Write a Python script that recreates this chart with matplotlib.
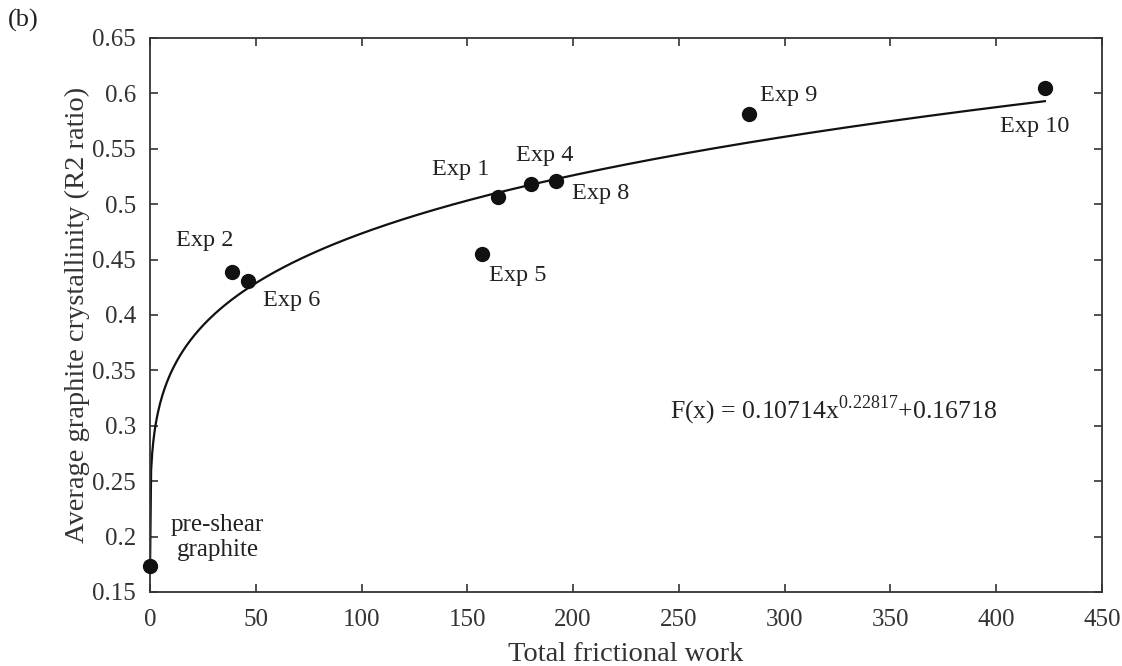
import numpy as np
import matplotlib
matplotlib.use("Agg")
import matplotlib.pyplot as plt

plt.rcParams['font.family'] = ['Liberation Serif', 'DejaVu Serif']

# Data
labels = ["pre-shear\ngraphite", "Exp 2", "Exp 6", "Exp 5", "Exp 1", "Exp 4", "Exp 8", "Exp 9", "Exp 10"]
work = [0.0, 38.7, 46.2, 157.0, 164.6, 180.2, 192.0, 283.0, 423.0]
crystallinity = [0.1735, 0.439, 0.4307, 0.455, 0.5065, 0.518, 0.521, 0.581, 0.605]

# label positions (data coords) for the annotations
label_x = [32, 26, 67, 174, 146.7, 186.8, 213, 302, 418.4]
label_y = [0.199, 0.467, 0.413, 0.436, 0.531, 0.544, 0.510, 0.598, 0.570]

# Fit: F(x) = a * x^b + c
fit_a, fit_b, fit_c = 0.10714, 0.22817, 0.16718

xticks = [0, 50, 100, 150, 200, 250, 300, 350, 400, 450]
yticks = [0.15, 0.2, 0.25, 0.3, 0.35, 0.4, 0.45, 0.5, 0.55, 0.6, 0.65]
ytick_labels = ["0.15", "0.2", "0.25", "0.3", "0.35", "0.4", "0.45", "0.5", "0.55", "0.6", "0.65"]

fig = plt.figure(figsize=(11.22, 6.66), dpi=100)
ax = fig.add_axes([150/1122, 1 - 592/666, (1102-150)/1122, (592-38)/666])

xf = np.linspace(0, max(work), 800)
ax.plot(xf, fit_a * xf**fit_b + fit_c, color='#111111', lw=1.6, zorder=2)
ax.plot(work, crystallinity, 'o', color='#111111', ms=10, zorder=3, clip_on=False)

for lab, tx, ty in zip(labels, label_x, label_y):
    fs = 18 if '\n' in lab else 17.5
    ax.text(tx, ty, lab, ha='center', va='center', fontsize=fs, color='#222222',
            linespacing=1.2)

ax.text(246, 0.314, r"F(x) = 0.10714x$^{\mathregular{0.22817}}$+0.16718", ha='left', va='center',
        fontsize=18.5, color='#222222')

ax.set_xlim(0, 450)
ax.set_ylim(0.15, 0.65)
ax.set_xticks(xticks)
ax.set_yticks(yticks)
ax.set_yticklabels(ytick_labels)
ax.tick_params(direction='in', top=True, right=True, length=6, width=1.2,
               labelsize=18, colors='#333333', labelcolor='#333333')
ax.tick_params(axis='x', pad=12)
ax.tick_params(axis='y', pad=10)
for s in ax.spines.values():
    s.set_color('#333333')
    s.set_linewidth(1.3)

ax.set_xlabel("Total frictional work", fontsize=20.5, color='#333333', labelpad=8)
ax.set_ylabel("Average graphite crystallinity (R2 ratio)", fontsize=20.5, color='#333333', labelpad=2)

fig.text(8/1122, 1 - 20/666, "(b)", fontsize=19, color='#222222', va='center', ha='left')

fig.savefig("out.png", dpi=100)
